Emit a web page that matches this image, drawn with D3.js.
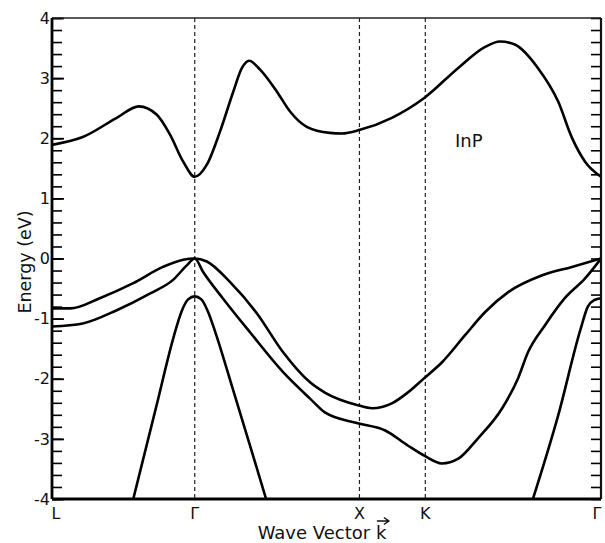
<!DOCTYPE html>
<html>
<head>
<meta charset="utf-8">
<script src="https://cdn.jsdelivr.net/npm/d3@7"></script>
<style>
  body { margin: 0; background: #fff; }
  text { font-family: "DejaVu Sans", sans-serif; fill: #111; }
</style>
</head>
<body>
<div id="chart"></div>
<script>
// path position along L-Γ-X-K-Γ (0..1) and energy in eV
var symLabels = ["L", "Γ", "X", "K", "Γ"];
var symK = [0, 0.26, 0.56, 0.68, 1];
var dashedK = [0.26, 0.56, 0.68];
var majorTicks = [-4, -3, -2, -1, 0, 1, 2, 3, 4];

var condBand = [[0,1.89],[0.056,2.02],[0.118,2.34],[0.158,2.53],[0.191,2.39],[0.215,2.06],[0.239,1.61],
  [0.26,1.36],[0.282,1.56],[0.306,2.11],[0.330,2.77],[0.346,3.17],[0.359,3.29],[0.379,3.14],[0.410,2.77],
  [0.434,2.44],[0.464,2.19],[0.506,2.09],[0.528,2.08],[0.561,2.14],[0.619,2.34],[0.678,2.67],[0.740,3.17],
  [0.789,3.52],[0.816,3.61],[0.843,3.56],[0.885,3.17],[0.922,2.61],[0.947,2.01],[0.971,1.61],[1,1.36]];

var valence1 = [[0,-0.83],[0.033,-0.83],[0.087,-0.66],[0.148,-0.41],[0.202,-0.14],[0.239,-0.02],[0.26,0],
  [0.282,-0.05],[0.324,-0.39],[0.373,-0.91],[0.421,-1.56],[0.470,-2.06],[0.497,-2.23],[0.557,-2.44],
  [0.583,-2.49],[0.619,-2.41],[0.648,-2.23],[0.678,-1.99],[0.710,-1.73],[0.752,-1.28],[0.789,-0.89],
  [0.831,-0.56],[0.893,-0.28],[0.947,-0.14],[1,0]];

var valence2 = [[0,-1.13],[0.056,-1.08],[0.118,-0.86],[0.179,-0.58],[0.220,-0.36],[0.246,-0.11],[0.26,0],
  [0.275,-0.22],[0.311,-0.66],[0.361,-1.23],[0.421,-1.89],[0.470,-2.33],[0.497,-2.56],[0.557,-2.74],
  [0.607,-2.86],[0.648,-3.11],[0.678,-3.28],[0.710,-3.41],[0.740,-3.33],[0.776,-2.99],[0.820,-2.49],
  [0.849,-1.99],[0.867,-1.56],[0.898,-1.11],[0.934,-0.66],[0.971,-0.33],[1,0]];

var splitOffLeft = [[0.148,-4.0],[0.190,-2.46],[0.222,-1.29],[0.236,-0.88],[0.248,-0.68],[0.26,-0.63],
  [0.272,-0.68],[0.284,-0.88],[0.298,-1.24],[0.330,-2.19],[0.360,-3.09],[0.390,-4.0]];

var splitOffRight = [[0.876,-4.0],[0.922,-2.61],[0.962,-1.2],[0.976,-0.8],[0.988,-0.69],[1,-0.66]];

// SVG frame
var svgWidth = 605;
var svgHeight = 543;
var Margin = { top: 18, right: 4, bottom: 44, left: 52 };
var width = svgWidth - Margin.left - Margin.right;
var height = svgHeight - Margin.top - Margin.bottom;

var svg = d3.select("#chart").append("svg")
  .attr("width", svgWidth)
  .attr("height", svgHeight);

var chartGroup = svg.append("g")
  .attr("transform", `translate(${Margin.left}, ${Margin.top})`);

var xScale = d3.scaleLinear().domain([0, 1]).range([0, width]);
var yScale = d3.scaleLinear().domain([-4, 4]).range([height, 0]);

svg.append("clipPath").attr("id", "plotClip")
  .append("rect").attr("x", 0).attr("y", 0).attr("width", width).attr("height", height);

// dashed symmetry lines
chartGroup.selectAll(".symline")
  .data(dashedK)
  .enter().append("line")
  .attr("x1", d => xScale(d)).attr("x2", d => xScale(d))
  .attr("y1", 0).attr("y2", height)
  .attr("stroke", "#222").attr("stroke-width", 1.2)
  .attr("stroke-dasharray", "4,3");

// minor ticks (every 0.2 eV) left and right, pointing inward
var minorTicks = d3.range(-4, 4.001, 0.2).map(d => Math.round(d * 10) / 10);

chartGroup.append("g")
  .call(d3.axisLeft(yScale).tickValues(minorTicks).tickSize(-10).tickFormat(""))
  .call(g => g.select(".domain").remove())
  .selectAll("line").attr("stroke-width", 1.6);

chartGroup.append("g")
  .attr("transform", `translate(${width},0)`)
  .call(d3.axisRight(yScale).tickValues(minorTicks).tickSize(-10).tickFormat(""))
  .call(g => g.select(".domain").remove())
  .selectAll("line").attr("stroke-width", 1.6);

// major tick labels (plain hyphen for negatives, as in the original)
var leftAxis = chartGroup.append("g")
  .call(d3.axisLeft(yScale).tickValues(majorTicks).tickSize(-12).tickPadding(4)
    .tickFormat(d => String(d)));
leftAxis.select(".domain").remove();
leftAxis.selectAll("line").attr("stroke-width", 1.8);
leftAxis.selectAll("text")
  .attr("font-size", "16px")
  .attr("font-family", "DejaVu Sans")
  .attr("fill", "#111")
  .attr("x", -2);

// bands
var line = d3.line()
  .x(d => xScale(d[0]))
  .y(d => yScale(d[1]))
  .curve(d3.curveMonotoneX);

var bandGroup = chartGroup.append("g").attr("clip-path", "url(#plotClip)");
[condBand, valence1, valence2, splitOffLeft, splitOffRight].forEach(function(band) {
  bandGroup.append("path")
    .datum(band)
    .attr("d", line)
    .attr("fill", "none")
    .attr("stroke", "#000")
    .attr("stroke-width", 2.6)
    .attr("stroke-linejoin", "round");
});

// frame
chartGroup.append("line").attr("x1", 0).attr("x2", width).attr("y1", 0).attr("y2", 0)
  .attr("stroke", "#222").attr("stroke-width", 1.6);
chartGroup.append("line").attr("x1", width).attr("x2", width).attr("y1", 0).attr("y2", height)
  .attr("stroke", "#111").attr("stroke-width", 2.2);
chartGroup.append("line").attr("x1", 0).attr("x2", 0).attr("y1", 0).attr("y2", height)
  .attr("stroke", "#000").attr("stroke-width", 2.8);
chartGroup.append("line").attr("x1", 0).attr("x2", width).attr("y1", height).attr("y2", height)
  .attr("stroke", "#000").attr("stroke-width", 2.8);

// symmetry point labels
chartGroup.selectAll(".symlabel")
  .data(symLabels)
  .enter().append("text")
  .attr("x", (d, i) => xScale(symK[i]) + (i === 0 ? 4 : i === symK.length - 1 ? -4 : 0))
  .attr("y", height + 20)
  .attr("text-anchor", "middle")
  .attr("font-size", "16px")
  .text(d => d);

// InP label
chartGroup.append("text")
  .attr("x", 403).attr("y", 129)
  .attr("font-size", "18px")
  .text("InP");

// axis titles
svg.append("text")
  .attr("transform", "rotate(-90)")
  .attr("x", -262)
  .attr("y", 31)
  .attr("text-anchor", "middle")
  .attr("font-size", "17.5px")
  .text("Energy (eV)");

var xTitle = svg.append("text")
  .attr("x", 322)
  .attr("y", 539)
  .attr("text-anchor", "middle")
  .attr("font-size", "18px");
xTitle.append("tspan").text("Wave Vector ");
var kSpan = xTitle.append("tspan").text("k");

var kBox = kSpan.node().getBBox();
var ax0 = kBox.x + 1, ax1 = kBox.x + kBox.width + 2, ay = kBox.y - 1;
svg.append("path")
  .attr("d", `M${ax0},${ay} L${ax1},${ay} M${ax1 - 5},${ay - 3.5} L${ax1},${ay} L${ax1 - 5},${ay + 3.5}`)
  .attr("fill", "none").attr("stroke", "#111").attr("stroke-width", 1.4);
</script>
</body>
</html>
